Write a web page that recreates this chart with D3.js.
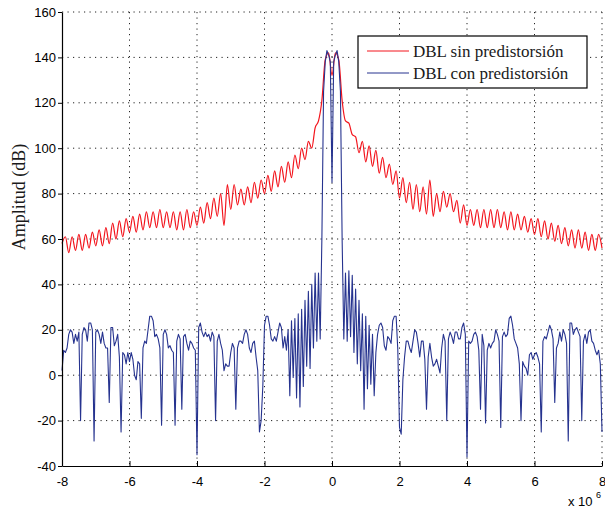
<!DOCTYPE html>
<html lang="es">
<head>
    <meta charset="UTF-8">
    <title>DBL espectro</title>
    <script src="https://d3js.org/d3.v7.min.js"></script>
    <style>
        body { margin: 0; background: white; }
        svg { display: block; }
        .tick-label { font-family: "Liberation Sans", Arial, sans-serif; font-size: 13px; fill: #000; }
        .serif { font-family: "Liberation Serif", "Times New Roman", serif; fill: #1a1a1a; }
        .grid line { stroke: #222; stroke-width: 1; stroke-dasharray: 1.2,4.3; }
    </style>
</head>
<body>
<script>
    // x axis in units of 1e6, regular grid
    const xMin = -8, xMax = 8;
    const redStep = 0.1;   // red samples every 0.1
    const blueStep = 0.05; // blue samples every 0.05

    const xTicks = [-8, -6, -4, -2, 0, 2, 4, 6, 8];
    const yTicks = [-40, -20, 0, 20, 40, 60, 80, 100, 120, 140, 160];

    const seriesNames = ["DBL sin predistorsión", "DBL con predistorsión"];

    // DBL sin predistorsión (dB), x = -8.0 ... 8.0
    const redValues = [
        58, 61, 54, 61, 55, 62, 55, 62, 56, 63,
        57, 64, 57, 65, 58, 67, 60, 68, 61, 69,
        63, 70, 63, 71, 64, 72, 65, 72, 65, 73,
        65, 72, 65, 72, 64, 72, 64, 73, 65, 72,
        66, 74, 67, 76, 69, 78, 70, 80, 66, 84,
        73, 84, 75, 82, 75, 83, 76, 85, 78, 86,
        80, 88, 81, 90, 83, 92, 85, 94, 87, 97,
        91, 100, 95, 103, 100, 109, 112, 121, 139, 142,
        132,
        142, 139, 121, 112, 111, 106, 105, 98, 103, 94,
        101, 92, 99, 89, 96, 87, 93, 84, 90, 78,
        87, 76, 85, 73, 84, 72, 83, 71, 86, 70,
        80, 72, 81, 74, 80, 72, 77, 67, 75, 66,
        73, 66, 73, 65, 73, 65, 73, 65, 73, 65,
        72, 64, 72, 64, 71, 64, 70, 63, 69, 62,
        69, 61, 68, 60, 67, 59, 66, 58, 65, 57,
        64, 56, 64, 56, 63, 55, 62, 55, 62, 56
    ];

    // DBL con predistorsión (dB), x = -8.00 ... -0.35
    const blueLeft = [
        2, 11, 10, 12, 18, 20, 19, 14, 18, 15,
        19, -20, 18, 21, 20, 15, 23, 23, 20, -29,
        19, 20, 18, 14, 19, 14, 12, 12, -12, 21,
        21, 13, 15, 18, 8, -25, 10, 9, 5, 10,
        6, 10, 7, 0, -2, 6, 5, -19, 12, 15,
        14, 20, 26, 26, 24, 17, 18, 16, 12, -22,
        18, 20, 18, 12, 13, 11, 10, -22, 15, 18,
        16, -15, 17, 18, 14, 11, 15, 14, 12, 11,
        -35, 21, 23, 19, 17, 19, 17, 18, 15, 19,
        17, -20, 15, 18, 14, 11, 2, 5, 4, 4,
        10, 14, 12, -15, 12, 15, 15, 14, 18, 20,
        18, 12, 10, 14, 15, 8, 2, -25, -20, -5,
        22, 26, 26, 22, 16, 15, 17, 15, 19, 23,
        21, 12, 17, 11, 20, -9, 24, -1, 25, -10,
        27, -14, 29, -5, 33, 4, 37, 3, 40, 12,
        45, 15, 45, 16
    ];
    // x = -0.30 ... 0.30 (main lobe)
    const blueCenter = [60, 125, 138, 143, 141, 138, 85, 138, 141, 143, 138, 125, 60];
    // x = 0.35 ... 8.00
    const blueRight = [
        16, 45, 15, 46, 17, 44, 10, 38, 5, 33,
        2, 27, -15, 26, -6, 22, -4, 18, -9, 10,
        18, 22, 23, 21, 13, 11, 17, 16, 14, 24,
        26, 26, 11, -23, -26, -2, 8, 15, 15, 12,
        10, 15, 20, 19, 14, 8, 15, 15, 7, -15,
        8, 14, 8, 4, 5, 7, 4, 1, 12, 18,
        15, -20, 16, 19, 17, 14, 19, 19, 16, 16,
        21, 23, 18, -36, 15, 14, 15, 18, 19, 17,
        11, -15, 18, 13, -21, 11, 14, 12, 14, 15,
        20, 18, 15, -23, 17, 19, 17, 18, 25, 26,
        22, 16, 14, 12, 5, -20, 6, 4, 3, 0,
        9, 10, 7, 9, 10, 8, 5, -25, 15, 17,
        16, 19, 22, 20, 16, -12, 12, 14, 19, 15,
        20, 18, 14, -29, 23, 23, 18, 20, 21, 19,
        17, -20, 15, 18, 14, 19, 20, 15, 14, 11,
        9, 11, 5, -25
    ];

    const colors = ["#f3141c", "#26338f"];

    // dimensions
    const W = 605, H = 513;
    const margin = {top: 12, right: 3, bottom: 47, left: 62};
    const width = W - margin.left - margin.right;
    const height = H - margin.top - margin.bottom;

    const svg = d3.select("body").append("svg")
        .attr("width", W)
        .attr("height", H);

    const g = svg.append("g")
        .attr("transform", `translate(${margin.left},${margin.top})`);

    const x = d3.scaleLinear().domain([xMin, xMax]).range([0, width]);
    const y = d3.scaleLinear().domain([-40, 160]).range([height, 0]);

    // build point lists
    const redData = redValues.map((v, i) => [xMin + i * redStep, v]);
    const blueValues = blueLeft.concat(blueCenter, blueRight);
    const blueData = blueValues.map((v, i) => [xMin + i * blueStep, v]);

    // grid
    const grid = g.append("g").attr("class", "grid");
    grid.selectAll(".gx")
        .data(xTicks.filter(d => d !== xMin))
        .enter().append("line")
        .attr("x1", d => x(d)).attr("x2", d => x(d))
        .attr("y1", 0).attr("y2", height);
    grid.selectAll(".gy")
        .data(yTicks.filter(d => d !== -40))
        .enter().append("line")
        .attr("x1", 0).attr("x2", width)
        .attr("y1", d => y(d)).attr("y2", d => y(d));

    // curves
    const redLine = d3.line()
        .x(d => x(d[0]))
        .y(d => y(d[1]))
        .curve(d3.curveMonotoneX);
    const blueLine = d3.line()
        .x(d => x(d[0]))
        .y(d => y(d[1]));

    g.append("path")
        .datum(redData)
        .attr("fill", "none")
        .attr("stroke", colors[0])
        .attr("stroke-width", 1.2)
        .attr("stroke-linejoin", "round")
        .attr("d", redLine);

    g.append("path")
        .datum(blueData)
        .attr("fill", "none")
        .attr("stroke", colors[1])
        .attr("stroke-width", 1.1)
        .attr("stroke-linejoin", "round")
        .attr("d", blueLine);

    // axes
    const xAxis = g.append("g")
        .attr("transform", `translate(0,${height})`)
        .call(d3.axisBottom(x).tickValues(xTicks).tickSizeInner(-5).tickSizeOuter(0).tickPadding(11).tickFormat(d3.format("d")));
    const yAxis = g.append("g")
        .call(d3.axisLeft(y).tickValues(yTicks).tickSizeInner(4).tickSizeOuter(0).tickPadding(2).tickFormat(d3.format("d")));

    [xAxis, yAxis].forEach(a => {
        a.select(".domain").attr("stroke", "#000").attr("stroke-width", 1.2);
        a.selectAll(".tick line").attr("stroke", "#000");
        a.selectAll(".tick text").attr("class", "tick-label").attr("font-size", null).attr("font-family", null);
    });
    xAxis.selectAll(".tick text").text(d => d < 0 ? "-" + Math.abs(d) : d);
    yAxis.selectAll(".tick text").text(d => d < 0 ? "-" + Math.abs(d) : d);

    // x 10^6 multiplier
    svg.append("text")
        .attr("class", "tick-label")
        .attr("x", 568)
        .attr("y", 506)
        .text("x 10");
    svg.append("text")
        .attr("class", "tick-label")
        .style("font-size", "9px")
        .attr("x", 596)
        .attr("y", 498)
        .text("6");

    // y label
    svg.append("text")
        .attr("class", "serif")
        .attr("transform", "translate(25,197) rotate(-90)")
        .attr("text-anchor", "middle")
        .style("font-size", "18px")
        .text("Amplitud (dB)");

    // legend
    const legend = svg.append("g").attr("transform", "translate(358,36)");
    legend.append("rect")
        .attr("width", 229)
        .attr("height", 52)
        .attr("fill", "white")
        .attr("stroke", "#000")
        .attr("stroke-width", 1.2);
    seriesNames.forEach((name, i) => {
        legend.append("line")
            .attr("x1", 9).attr("x2", 51)
            .attr("y1", 15 + i * 22).attr("y2", 15 + i * 22)
            .attr("stroke", colors[i])
            .attr("stroke-width", 1);
        legend.append("text")
            .attr("class", "serif")
            .attr("x", 55)
            .attr("y", 21 + i * 22)
            .style("font-size", "17px")
            .text(name);
    });
</script>
</body>
</html>
